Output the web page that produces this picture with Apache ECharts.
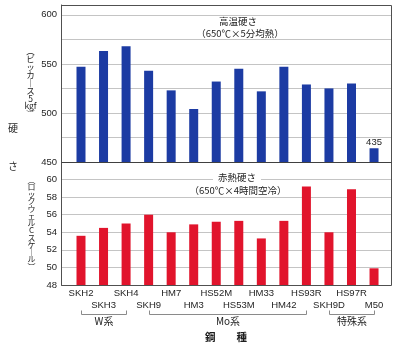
<!DOCTYPE html>
<html>
<head>
<meta charset="utf-8">
<script src="https://cdn.jsdelivr.net/npm/echarts@6/dist/echarts.min.js"></script>
<style>html,body{margin:0;padding:0;background:#fff;}#c{width:400px;height:351px;}</style>
</head>
<body>
<div id="c"></div>
<script>
// ---- data ----
const categories = ['SKH2','SKH3','SKH4','SKH9','HM7','HM3','HS52M','HS53M','HM33','HM42','HS93R','SKH9D','HS97R','M50'];
const highTempHardness = [547, 563, 568, 543, 523, 504, 532, 545, 522, 547, 529, 525, 530, 435]; // Vickers 5kgf
const redHardness = [53.6, 54.5, 55.0, 56.0, 54.0, 54.9, 55.2, 55.3, 53.3, 55.3, 59.2, 54.0, 58.9, 49.9]; // HRC
const topAxis = { min: 450, max: 610, interval: 25, labelStep: 50, labelMax: 600 };
const bottomAxis = { min: 48, max: 62, interval: 2, labelMax: 60 };
const brokenBarTop = 464; // drawn height for a value below the axis floor (broken bar)
const groups = [
  { name: 'W系', from: 'SKH2', to: 'SKH4' },
  { name: 'Mo系', from: 'SKH9', to: 'HS93R' },
  { name: '特殊系', from: 'SKH9D', to: 'M50' }
];

const JP = "'Noto Sans CJK JP', sans-serif";
const LAT = "'Liberation Sans', Arial, 'Noto Sans CJK JP', sans-serif";
const TXT = '#1e1e1e';

const chart = echarts.init(document.getElementById('c'), null, { renderer: 'canvas' });

const outerL = 61, outerR = 9, innerL = 69.73, innerR = 14.7;
const topT = 5, topH = 157, botT = 162, botH = 123;

const gridBase = { outerBoundsMode: 'none', containLabel: false, show: false };

const option = {
  animation: false,
  backgroundColor: '#fff',
  grid: [
    Object.assign({ left: outerL, right: outerR, top: topT, height: topH }, gridBase),
    Object.assign({ left: innerL, right: innerR, top: topT, height: topH }, gridBase),
    Object.assign({ left: outerL, right: outerR, top: botT, height: botH }, gridBase),
    Object.assign({ left: innerL, right: innerR, top: botT, height: botH }, gridBase)
  ],
  xAxis: [
    { gridIndex: 0, type: 'value', min: 0, max: 1, show: false },
    { gridIndex: 1, type: 'category', data: categories, show: false },
    { gridIndex: 2, type: 'value', min: 0, max: 1, show: false },
    {
      gridIndex: 3, type: 'category', data: categories,
      axisLine: { show: false }, axisTick: { show: false },
      axisLabel: {
        interval: 0, margin: 3, fontSize: 9.5, lineHeight: 11.7, color: TXT, fontFamily: LAT,
        formatter: (v, i) => (i % 2 ? '\n' + v : v)
      }
    }
  ],
  yAxis: [
    {
      gridIndex: 0, type: 'value', min: topAxis.min, max: topAxis.max, interval: topAxis.interval,
      axisLine: { show: true, lineStyle: { color: '#444' } }, axisTick: { show: false },
      splitLine: { show: true, lineStyle: { color: '#c4c4c4', width: 1 } },
      axisLabel: {
        margin: 4, fontSize: 9.5, color: TXT, fontFamily: LAT,
        formatter: v => (v % topAxis.labelStep === 0 && v <= topAxis.labelMax ? String(v) : '')
      }
    },
    { gridIndex: 1, type: 'value', min: topAxis.min, max: topAxis.max, show: false },
    {
      gridIndex: 2, type: 'value', min: bottomAxis.min, max: bottomAxis.max, interval: bottomAxis.interval,
      axisLine: { show: true, lineStyle: { color: '#444' } }, axisTick: { show: false },
      splitLine: { show: true, lineStyle: { color: '#c4c4c4', width: 1 } },
      axisLabel: {
        margin: 4, fontSize: 9.5, color: TXT, fontFamily: LAT,
        formatter: v => (v <= bottomAxis.labelMax ? String(v) : '')
      }
    },
    { gridIndex: 3, type: 'value', min: bottomAxis.min, max: bottomAxis.max, show: false }
  ],
  series: [
    {
      type: 'bar', xAxisIndex: 1, yAxisIndex: 1, barWidth: 9,
      itemStyle: { color: '#1c3ba3' },
      data: highTempHardness.map(v => v < topAxis.min
        ? { value: brokenBarTop, label: { show: true, position: 'top', distance: 1, fontSize: 9.5, color: TXT, fontFamily: LAT, formatter: String(v) } }
        : v)
    },
    {
      type: 'bar', xAxisIndex: 3, yAxisIndex: 3, barWidth: 9,
      itemStyle: { color: '#e1142c' },
      data: redHardness
    }
  ]
};
chart.setOption(option);

// ---- annotations ----
const px = (ax, val) => chart.convertToPixel({ xAxisIndex: ax }, val);
const tl = chart.convertToPixel({ xAxisIndex: 0, yAxisIndex: 0 }, [0, topAxis.max]);
const mid = chart.convertToPixel({ xAxisIndex: 0, yAxisIndex: 0 }, [1, topAxis.min]);
const br = chart.convertToPixel({ xAxisIndex: 2, yAxisIndex: 2 }, [1, bottomAxis.min]);
const r5 = v => Math.round(v) + 0.5;

const g = [];
g.push({ type: 'rect', z: 50, silent: true,
  shape: { x: r5(tl[0]), y: r5(tl[1]), width: Math.round(br[0] - tl[0]), height: Math.round(br[1] - tl[1]) },
  style: { fill: 'none', stroke: '#505050', lineWidth: 1 } });
g.push({ type: 'line', z: 50, silent: true,
  shape: { x1: r5(tl[0]), y1: r5(mid[1]), x2: r5(br[0]), y2: r5(mid[1]) },
  style: { stroke: '#404040', lineWidth: 1 } });

// panel titles
g.push({ type: 'text', z: 60, x: 238, y: 21, style: { text: '高温硬さ', font: `9.5px ${JP}`, fill: TXT, align: 'center', verticalAlign: 'middle' } });
g.push({ type: 'text', z: 60, x: 240, y: 33, style: { text: '（650℃×5分均熱）', font: `9.5px ${JP}`, fill: TXT, align: 'center', verticalAlign: 'middle' } });
g.push({ type: 'text', z: 60, x: 237, y: 177.5, style: { text: '赤熱硬さ', font: `9.5px ${JP}`, fill: TXT, align: 'center', verticalAlign: 'middle', backgroundColor: '#fff', padding: [1, 5, 1, 5] } });
g.push({ type: 'text', z: 60, x: 238, y: 190, style: { text: '（650℃×4時間空冷）', font: `9.5px ${JP}`, fill: TXT, align: 'center', verticalAlign: 'middle' } });

// y axis titles (vertical)
g.push({ type: 'text', z: 60, x: 30.5, y: 47, style: {
  text: ['︵','ビ','ッ','カ','｜','ス','5','kgf','︶'].join('\n'),
  font: `8.5px ${JP}`, lineHeight: 7.9, fill: TXT, align: 'center', verticalAlign: 'top' } });
g.push({ type: 'text', z: 60, x: 31.5, y: 176, style: {
  text: ['︵','ロ','ッ','ク','ウ','ェ','ル','C','ス','ケ','｜','ル','︶'].join('\n'),
  font: `8px ${JP}`, lineHeight: 7.25, fill: TXT, align: 'center', verticalAlign: 'top' } });
g.push({ type: 'text', z: 60, x: 13, y: 128, style: { text: '硬', font: `10px ${JP}`, fill: TXT, align: 'center', verticalAlign: 'middle' } });
g.push({ type: 'text', z: 60, x: 13, y: 166.5, style: { text: 'さ', font: `10px ${JP}`, fill: TXT, align: 'center', verticalAlign: 'middle' } });

// group brackets
groups.forEach(gr => {
  const x1 = r5(px(3, gr.from)), x2 = r5(px(3, gr.to));
  g.push({ type: 'polyline', z: 60, silent: true,
    shape: { points: [[x1, 310.5], [x1, 314.5], [x2, 314.5], [x2, 310.5]] },
    style: { stroke: '#8a8a8a', lineWidth: 1, fill: 'none' } });
  g.push({ type: 'text', z: 60, x: (x1 + x2) / 2, y: 321.5, style: { text: gr.name, font: `10px ${JP}`, fill: TXT, align: 'center', verticalAlign: 'middle' } });
});
g.push({ type: 'text', z: 60, x: 226, y: 337, style: { text: '鋼　　種', font: `bold 10.5px ${JP}`, fill: TXT, align: 'center', verticalAlign: 'middle' } });

chart.setOption({ graphic: g });
</script>
</body>
</html>
